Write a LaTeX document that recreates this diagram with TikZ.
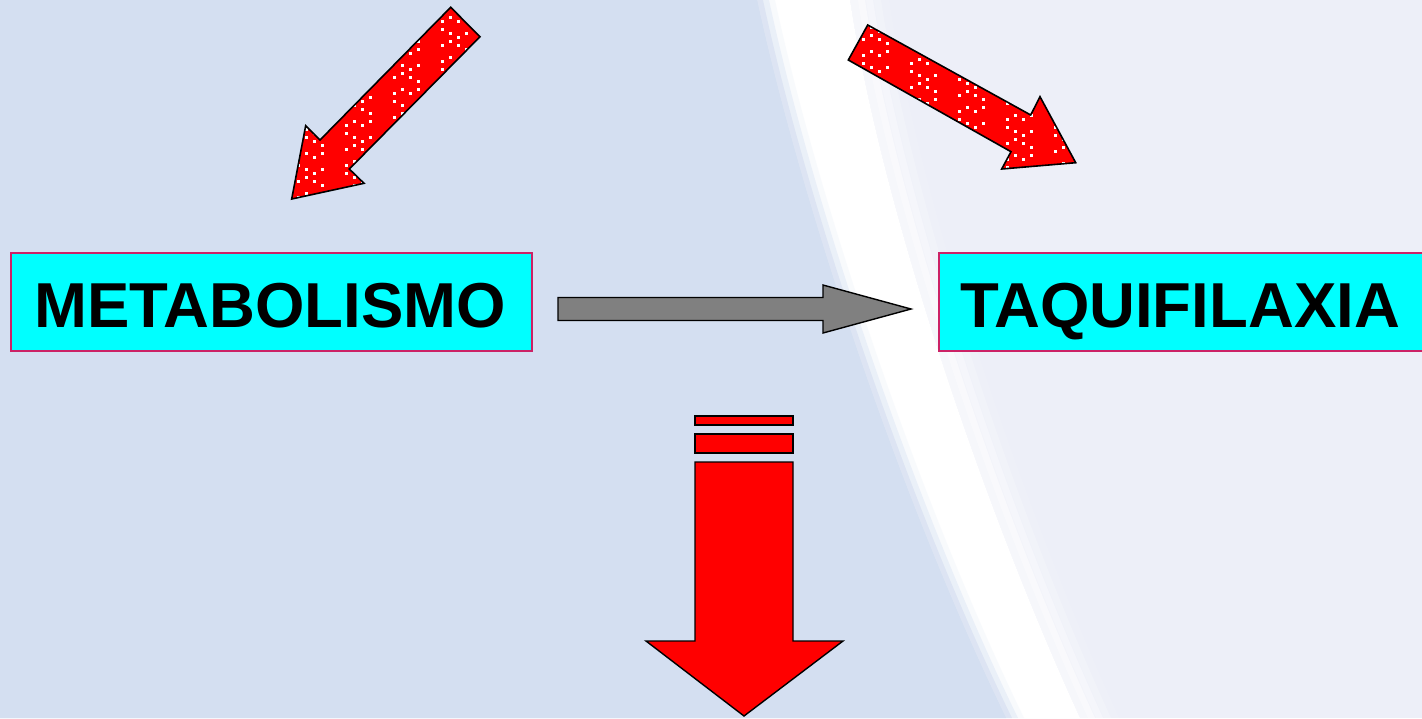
\documentclass[tikz,border=0pt]{standalone}
\usepackage{fontspec}
\setmainfont{Liberation Sans}
\usetikzlibrary{calc}
\definecolor{bgblue}{HTML}{D4DFF1}
\definecolor{bglav}{HTML}{EDEFF8}
\definecolor{boxcyan}{HTML}{00FFFF}
\definecolor{boxline}{HTML}{CC2266}
\definecolor{arrred}{HTML}{FF0000}
\definecolor{arrgray}{HTML}{808080}
\tikzset{
  box/.style={draw=boxline, line width=1.2pt, fill=boxcyan, inner sep=0pt},
  label/.style={font=\bfseries\fontsize{63.5}{63.5}\selectfont, anchor=base, inner sep=0pt},
  redarrow/.style={draw=black, line width=1.6pt, fill=arrred, line join=miter},
  grayarrow/.style={draw=black, line width=1.4pt, fill=arrgray, line join=miter},
  dot/.style={fill=white, draw=none}
}
\begin{document}
\begin{tikzpicture}[x=1pt,y=-1pt]
\useasboundingbox (0,0) rectangle (1422,718);
\clip (0,0) rectangle (1422,718);
% background
\fill[bglav] (0,0) rectangle (1422,718);
\fill[white] (757,0) .. controls (800,200) and (900,500) .. (1006,718)
  -- (1080,718) .. controls (980,500) and (880,200) .. (850,0) -- cycle;
\foreach \o/\a in {0/0.5,8/0.35,16/0.2,24/0.1}{
  \fill[white, opacity=\a] (850+\o,0) .. controls (880+\o,200) and (980+\o,500) .. (1080+\o,718)
   -- (1095+\o,718) .. controls (995+\o,500) and (895+\o,200) .. (865+\o,0) -- cycle;
}
\foreach \o/\a in {0/1,6/0.6,12/0.35,18/0.15}{
  \fill[bgblue, opacity=\a] (0,0) -- (757+\o,0) .. controls (800+\o,200) and (900+\o,500) .. (1006+\o,718) -- (0,718) -- cycle;
}
% boxes
\node[box, minimum width=521pt, minimum height=98pt] (met) at (271.5,302) {};
\node[label] (mettext) at (270,327) {METABOLISMO};
\node[box, minimum width=490pt, minimum height=98pt] (taq) at (1184,302) {};
\node[label] (taqtext) at (1180,327) {TAQUIFILAXIA};
% gray arrow
\coordinate (gs) at (558,309);
\coordinate (gt) at (911,309);
\draw[grayarrow] ($(gs)+(0,-11.5)$) -- (823,297.5) -- (823,285) -- (gt) -- (823,333) -- (823,320.5) -- ($(gs)+(0,11.5)$) -- cycle;
% left diagonal red arrow
\def\leftarr{(450.7,7.3) -- (480,36.7) -- (349.3,169) -- (364,183.3) -- (291.7,199) -- (305.7,125.7) -- (320,140) -- cycle}
\fill[arrred] \leftarr;
\begin{scope}
  \clip \leftarr;
  \foreach \i in {0,1,2,3,6,7,8,9,12,13,14,15,18,19,20,21,24}{
    \foreach \j in {0,...,25}{
      \pgfmathtruncatemacro\keep{mod(\i*7+\j*3,5)<3 ? 1 : 0}
      \ifnum\keep=1
        \pgfmathsetmacro\yy{4+8*\j+4*mod(\i,2)}
        \fill[dot] (297+8*\i,\yy) rectangle ++(2.6,2.8);
      \fi
    }
  }
\end{scope}
\draw[redarrow, fill=none] \leftarr;
% right diagonal red arrow
\def\rightarr{(867.7,25) -- (1030.7,115) -- (1040,96.7) -- (1075.7,162.7) -- (1001.7,169) -- (1011,151.7) -- (848.3,60) -- cycle}
\fill[arrred] \rightarr;
\begin{scope}
  \clip \rightarr;
  \foreach \i in {0,1,2,3,6,7,8,9,12,13,14,15,18,19,20,21,24,25,26,27}{
    \foreach \j in {0,...,20}{
      \pgfmathtruncatemacro\keep{mod(\i*7+\j*3,5)<3 ? 1 : 0}
      \ifnum\keep=1
        \pgfmathsetmacro\yy{22+8*\j+4*mod(\i,2)}
        \fill[dot] (862+8*\i,\yy) rectangle ++(2.6,2.8);
      \fi
    }
  }
\end{scope}
\draw[redarrow, fill=none] \rightarr;
% down arrow
\draw[redarrow, line width=1.4pt] (695,416) rectangle (793,425);
\draw[redarrow, line width=1.4pt] (695,434) rectangle (793,453);
\coordinate (dtip) at (744,716);
\draw[redarrow, line width=1.4pt] (695,462) -- (793,462) -- (793,641) -- (843,641) -- (dtip) -- (646,641) -- (695,641) -- cycle;
\end{tikzpicture}
\end{document}
